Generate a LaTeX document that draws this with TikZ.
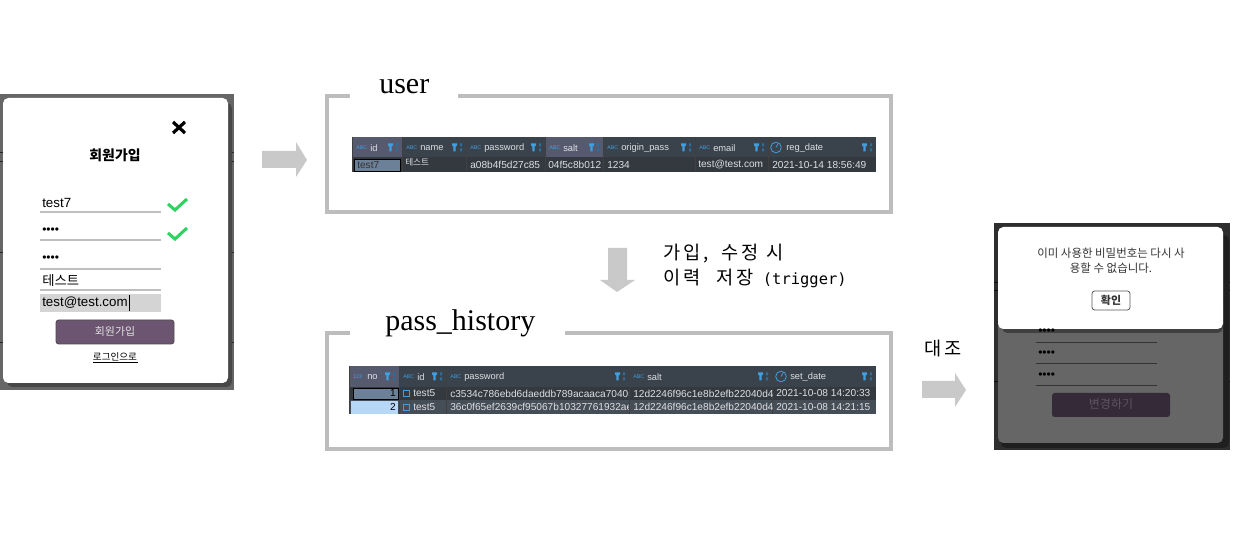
\documentclass[tikz,border=0pt]{standalone}
\usepackage{fontspec}
\setmainfont{Liberation Sans}
\newfontfamily\krfont{Noto Sans CJK KR}
\newfontfamily\krmono[LetterSpace=15]{Noto Sans CJK KR}
\newfontfamily\serifname{Liberation Serif}
\newfontfamily\mononame{DejaVu Sans Mono}
\definecolor{frameGray}{HTML}{BDBDBD}
\definecolor{arrowGray}{HTML}{C9C9C9}
\definecolor{headDark}{HTML}{3A424B}
\definecolor{headSel}{HTML}{565A6E}
\definecolor{rowDark}{HTML}{33393F}
\definecolor{rowLight}{HTML}{454D56}
\definecolor{cellSel}{HTML}{6C8098}
\definecolor{cellBlue}{HTML}{B7D7F7}
\definecolor{iconBlue}{HTML}{3F9FE0}
\definecolor{textLight}{HTML}{DCE0E3}
\definecolor{okGreen}{HTML}{2ED162}
\definecolor{btnPurple}{HTML}{6B5570}
\definecolor{btnDim}{HTML}{352A38}
\definecolor{btnDimText}{HTML}{5E5464}
\tikzset{
  px/.style={font=\fontsize{#1}{#1}\selectfont},
  frameline/.style={draw=frameGray,line width=3.2pt},
  headtext/.style={anchor=west,text=textLight,inner sep=0pt,font=\fontsize{7}{8}\selectfont},
  celltext/.style={anchor=west,text=textLight,inner sep=0pt,font=\fontsize{7.6}{8}\selectfont},
  icontext/.style={anchor=west,text=iconBlue,inner sep=0pt,font=\fontsize{4}{4}\selectfont},
  fieldline/.style={draw=black!25,line width=1pt},
  dots/.style={anchor=west,inner sep=0pt,font=\fontsize{9}{9}\selectfont},
  krtext/.style={inner sep=0pt,font=\krfont\fontsize{#1}{#1}\selectfont},
}
\newcommand{\filtericon}[2]{%
  \fill[iconBlue] (#1-3,#2-4)--(#1+2,#2-4)--(#1+2,#2-2)--(#1+.7,#2-1)--(#1+.7,#2+4)--(#1-1.7,#2+4)--(#1-1.7,#2-1)--(#1-3,#2-2)--cycle;
  \fill[iconBlue!70!black] (#1+5,#2-4) rectangle (#1+7,#2-1) (#1+5,#2+1) rectangle (#1+7,#2+4);
}

\begin{document}
\begin{tikzpicture}[x=0.75pt,y=-0.75pt]
  \useasboundingbox (0,0) rectangle (1233,534);

  % sign-up screenshot
  \fill[black!60] (0,94) rectangle (234,390);
  \foreach \y in {152,161,252,342} \draw[black!85,line width=.6pt] (0,\y) -- (234,\y);
  \fill[black!72,rounded corners=4pt] (7,103) rectangle (232,387);
  \fill[white,rounded corners=4pt] (3,98) rectangle (228,383);
  \draw[line width=2.4pt] (173,122) -- (185,133) (185,122) -- (173,133);
  \node[krtext=10,font=\krfont\bfseries\fontsize{10.4}{10}\selectfont] (joinTitle) at (115,155) {회원가입};
  \foreach \y in {212,240,269,290} \draw[fieldline] (40,\y) -- (161,\y);
  \fill[black!17] (40,294) rectangle (161,312);
  \node[anchor=west,inner sep=0pt,px=10] (inId) at (42,203) {test7};
  \node[dots] (inPass) at (42,231) {••••};
  \node[dots] (inPassCheck) at (42,259) {••••};
  \node[anchor=west,krtext=10] (inName) at (42,281) {테스트};
  \node[anchor=west,inner sep=0pt,px=10] (inMail) at (42,303) {test@test.com};
  \draw[line width=.6pt] (129,295) -- (129,311);
  \foreach \y in {204,233} \draw[okGreen,line width=2.3pt] (168,\y) -- (175,\y+6) -- (187,\y-5);
  \draw[black!70,fill=btnPurple,rounded corners=2pt,line width=.6pt] (56,320) rectangle (174,344);
  \node[krtext=8.2,text=black!12] (joinBtn) at (115,331) {회원가입};
  \node[krtext=7.2] (toLogin) at (115,357) {로그인으로};
  \draw[line width=.4pt] (93,362) -- (138,362);

  % block arrows
  \fill[arrowGray] (262,151)--(296,151)--(296,142)--(307,160)--(296,177)--(296,168)--(262,168)--cycle;
  \fill[arrowGray] (608,248)--(627,248)--(627,280)--(635,280)--(617,292)--(600,280)--(608,280)--cycle;
  \fill[arrowGray] (922,381)--(955,381)--(955,373)--(966,390)--(955,407)--(955,398)--(922,398)--cycle;

  % user table
  \draw[frameline] (350,96) -- (327,96) -- (327,212) -- (891,212) -- (891,96) -- (458,96);
  \node[anchor=base west,inner sep=0pt,font=\serifname\fontsize{22.5}{24}\selectfont] (userName) at (379,94) {user};
  \fill[headDark] (352,137) rectangle (876,157);
  \fill[rowDark] (352,157) rectangle (876,172);
  \foreach \a/\b/\t/\k/\c in {352/402/id/ABC/headSel,402/466/name/ABC/headDark,466/545/password/ABC/headDark,545/603/salt/ABC/headSel,603/695/origin\_pass/ABC/headDark,695/768/email/ABC/headDark,768/876/reg\_date//headDark}{
    \fill[\c] (\a,137) rectangle (\b,157);
    \draw[black!75,line width=.5pt] (\a,137) -- (\a,172);
    \node[headtext] (userHead\a) at (\a+18,148) {\t};
    \node[icontext] (userIcon\a) at (\a+4,147.5) {\k};
    \filtericon{\b-11}{147.5}
  }
  \draw[iconBlue,line width=.6pt] (776,147.5) circle (5.3) (776,147.5) -- (778,144);
  \fill[cellSel] (354,159) rectangle (400,171);
  \draw[black,line width=.7pt] (354,159) rectangle (400,171);
  \node[celltext,text=black!80] (userCellId) at (357,165) {test7};
  \node[anchor=west,inner sep=0pt,text=textLight,font=\krfont\fontsize{6.5}{7}\selectfont] (userCellName) at (405,162) {테스트};
  \node[celltext] (userCellPass) at (470,165) {a08b4f5d27c85};
  \node[celltext] (userCellSalt) at (548,165) {04f5c8b012};
  \node[celltext] (userCellOrigin) at (607,165) {1234};
  \node[celltext] (userCellMail) at (698,165) {test@test.com};
  \node[celltext] (userCellDate) at (772,165) {2021-10-14 18:56:49};

  % pass_history table
  \draw[frameline] (350,333) -- (327,333) -- (327,449) -- (891,449) -- (891,333) -- (565,333);
  \node[anchor=base west,inner sep=0pt,font=\serifname\fontsize{22.5}{24}\selectfont] (historyName) at (385,331) {pass\_history};
  \fill[headDark] (349,366) rectangle (876,387);
  \fill[rowDark] (349,387) rectangle (876,400);
  \fill[rowLight] (349,400) rectangle (876,414);
  \foreach \a/\b/\t/\k/\c in {349/399/no/123/headSel,399/446/id/ABC/headDark,446/629/password/ABC/headDark,629/772/salt/ABC/headDark,772/876/set\_date//headDark}{
    \fill[\c] (\a,366) rectangle (\b,387);
    \draw[black!75,line width=.5pt] (\a,366) -- (\a,414);
    \node[headtext] (histHead\a) at (\a+18,377) {\t};
    \node[icontext] (histIcon\a) at (\a+4,376.5) {\k};
    \filtericon{\b-11}{376.5}
  }
  \draw[iconBlue,line width=.6pt] (781,376.5) circle (5.3) (781,376.5) -- (783,373);
  \fill[cellSel] (353,388) rectangle (398,399);
  \draw[black,line width=.7pt] (353,388) rectangle (398,399);
  \fill[cellBlue] (351,401) rectangle (398,414);
  \node[celltext,anchor=east,text=black] (histNoOne) at (396,393.5) {1};
  \node[celltext,anchor=east,text=black] (histNoTwo) at (396,407) {2};
  \foreach \y in {393.5,407} \draw[iconBlue,line width=.6pt] (403,\y-3) rectangle (409,\y+3);
  \node[celltext] (histIdOne) at (413,393.5) {test5};
  \node[celltext] (histIdTwo) at (413,407) {test5};
  \begin{scope}
    \clip (448,387) rectangle (628,414);
    \node[celltext] (histPassOne) at (450,393.5) {c3534c786ebd6daeddb789acaaca70405};
    \node[celltext] (histPassTwo) at (450,407) {36c0f65ef2639cf95067b10327761932ae};
  \end{scope}
  \node[celltext] (histSaltOne) at (633,393.5) {12d2246f96c1e8b2efb22040d4};
  \node[celltext] (histSaltTwo) at (633,407) {12d2246f96c1e8b2efb22040d4};
  \node[celltext] (histDateOne) at (776,393.5) {2021-10-08 14:20:33};
  \node[celltext] (histDateTwo) at (776,407) {2021-10-08 14:21:15};

  % captions
  \node[anchor=west,inner sep=0pt,font=\krmono\fontsize{14}{14}\selectfont] (captionOne) at (663,254) {가입,\hspace{10pt}수정\hspace{6pt}시};
  \node[anchor=west,inner sep=0pt,font=\fontsize{14}{14}\selectfont] (captionTwo) at (663,278) {{\krmono 이력\hspace{12pt}저장}\hspace{7pt}{\mononame\fontsize{11.6}{14}\selectfont(trigger)}};
  \node[inner sep=0pt,font=\krmono\fontsize{14}{14}\selectfont] (matchLabel) at (943,349) {대조};

  % password change screenshot
  \fill[black!82] (994,223) rectangle (1230,450);
  \foreach \y in {282,290,381} \draw[black!95,line width=.5pt] (994,\y) -- (1230,\y);
  \fill[black!88,rounded corners=4pt] (1001,235) rectangle (1229,448);
  \fill[black!60,rounded corners=4pt] (998,228) rectangle (1223,443);
  \fill[black!75,rounded corners=4pt] (1002,300) rectangle (1223,333);
  \fill[white,rounded corners=4pt] (998,227) rectangle (1223,329);
  \node[krtext=8.6,text=black!80] (alertOne) at (1111,253) {이미 사용한 비밀번호는 다시 사};
  \node[krtext=8.6,text=black!80] (alertTwo) at (1111,268) {용할 수 없습니다.};
  \draw[black!65,rounded corners=2pt,line width=.6pt] (1092,291) rectangle (1130,310);
  \node[krtext=7.9,text=black!80,font=\krfont\bfseries\fontsize{8.2}{8}\selectfont] (alertBtn) at (1111,300) {확인};
  \foreach \y in {342,363,385} \draw[black!80,line width=.5pt] (1036,\y) -- (1157,\y);
  \node[dots] (oldPass) at (1038,332) {••••};
  \node[dots] (newPass) at (1038,354) {••••};
  \node[dots] (newPassCheck) at (1038,376) {••••};
  \fill[btnDim,rounded corners=2pt] (1052,393) rectangle (1170,417);
  \node[krtext=9,text=btnDimText] (changeBtn) at (1111,404) {변경하기};
\end{tikzpicture}
\end{document}
